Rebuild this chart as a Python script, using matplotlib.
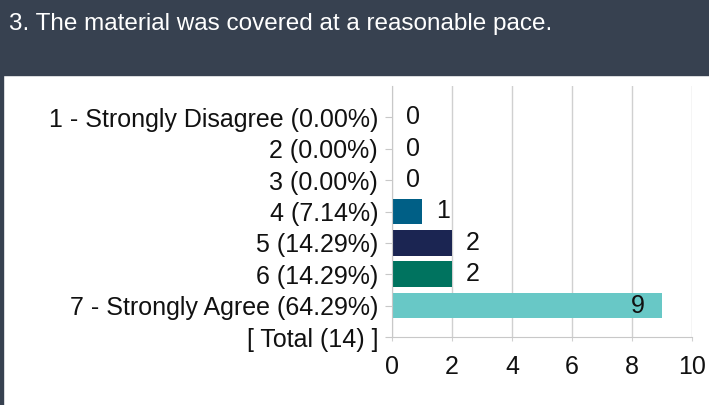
import matplotlib.pyplot as plt
from matplotlib.patches import Rectangle

title = '3. The material was covered at a reasonable pace.'
categories = ['1 - Strongly Disagree (0.00%)', '2 (0.00%)', '3 (0.00%)', '4 (7.14%)',
              '5 (14.29%)', '6 (14.29%)', '7 - Strongly Agree (64.29%)', '[ Total (14) ]']
counts = [0, 0, 0, 1, 2, 2, 9]
bar_colors = ['#005F86', '#005F86', '#005F86', '#005F86', '#1B2552', '#00735F', '#68C8C6']
xticks = [0, 2, 4, 6, 8, 10]

plt.rcParams['font.family'] = ['Liberation Sans', 'DejaVu Sans']

W, H = 709, 405
fig = plt.figure(figsize=(W / 100, H / 100), dpi=100)
fig.patch.set_facecolor('white')

# header band and left border
fig.patches.append(Rectangle((0, (H - 75) / H), 1, 75 / H, transform=fig.transFigure,
                             color='#374150', zorder=0))
fig.patches.append(Rectangle((0, 0), 3 / W, 1, transform=fig.transFigure,
                             color='#374150', zorder=0))
fig.text(9 / W, 1 - 24 / H, title, color='white', fontsize=17.5, va='center', ha='left')

ax = fig.add_axes([392 / W, 68 / H, 300 / W, 251 / H])
ypos = list(range(len(counts)))
ax.barh(ypos, counts, height=0.82, color=bar_colors, zorder=2)

for y, v in zip(ypos, counts):
    if v > 8:
        ax.text(v - 0.8, y, str(v), ha='center', va='center', fontsize=18, color='#111111', zorder=3)
    else:
        ax.text(v + 0.7, y, str(v), ha='center', va='center', fontsize=18, color='#111111', zorder=3)

ax.set_xlim(0, 10)
ax.set_ylim(len(categories) - 1, -1)
ax.set_xticks(xticks)
ax.set_xticklabels([str(t) for t in xticks], fontsize=18)
ax.set_yticks(range(len(categories)))
ax.set_yticklabels(categories, fontsize=18)
ax.grid(axis='x', color='#D0D0D0', linewidth=1, zorder=0)
ax.set_axisbelow(True)
for s in ['top', 'right']:
    ax.spines[s].set_visible(False)
ax.spines['left'].set_color('#C8C8C8')
ax.spines['bottom'].set_color('#C8C8C8')
ax.tick_params(axis='y', length=5, color='#C8C8C8', pad=5, labelcolor='#111111')
ax.tick_params(axis='x', length=3, color='#D0D0D0', pad=10, labelcolor='#111111')

fig.savefig('out.png', dpi=100)
